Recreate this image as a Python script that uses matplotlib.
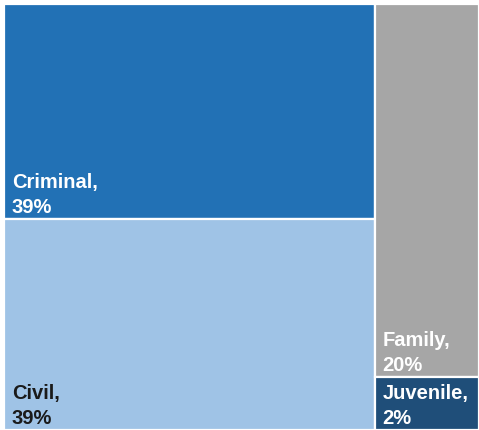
import matplotlib.pyplot as plt
from matplotlib.patches import Rectangle

# case type shares (percent)
labels = ['Criminal', 'Civil', 'Family', 'Juvenile']
shares = [39.2, 38.6, 19.2, 2.7]
pct_text = ['39%', '39%', '20%', '2%']
colors = ['#2271b5', '#9fc3e6', '#a6a6a6', '#1f4e79']
text_colors = ['white', '#1a1a1a', 'white', 'white']

plt.rcParams['font.family'] = ['Liberation Sans', 'DejaVu Sans']

fig = plt.figure(figsize=(4.79, 4.31), dpi=100)
ax = fig.add_axes([4 / 479, 0, 475 / 479, 426 / 431])
ax.set_xlim(0, 1)
ax.set_ylim(0, 1)
ax.axis('off')

total = sum(shares)
left_w = (shares[0] + shares[1]) / total
right_total = shares[2] + shares[3]

# left column: Criminal on top, Civil below; right column: Family over Juvenile
civ_h = shares[1] / (shares[0] + shares[1])
juv_h = shares[3] / right_total
rects = [
    (0, civ_h, left_w, 1 - civ_h),
    (0, 0, left_w, civ_h),
    (left_w, juv_h, 1 - left_w, 1 - juv_h),
    (left_w, 0, 1 - left_w, juv_h),
]

for (x, y, w, h), lab, pct, c, tc in zip(rects, labels, pct_text, colors, text_colors):
    ax.add_patch(Rectangle((x, y), w, h, facecolor=c, edgecolor='white', linewidth=1.6))
    ax.annotate(f'{lab},\n{pct}', xy=(x, y), xytext=(8, 3), textcoords='offset pixels',
                ha='left', va='bottom', color=tc, fontsize=14.5, fontweight='bold',
                linespacing=1.4)

fig.savefig('out.png', dpi=100)
